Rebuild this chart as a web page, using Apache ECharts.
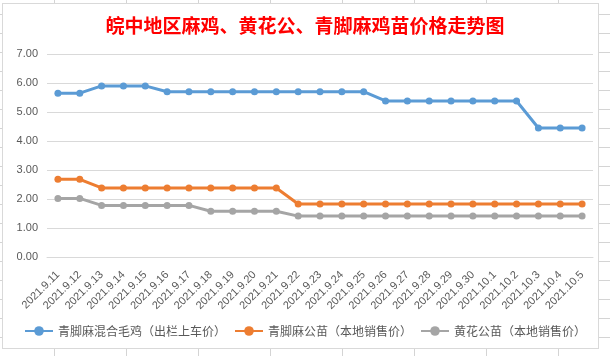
<!DOCTYPE html>
<html>
<head>
<meta charset="utf-8">
<script src="https://cdn.jsdelivr.net/npm/echarts@6/dist/echarts.min.js"></script>
<style>
  html, body { margin: 0; padding: 0; width: 610px; height: 356px; overflow: hidden; }
  body {
    background-color: #ffffff;
    background-image:
      repeating-linear-gradient(to right, transparent 0px, transparent 54px, #d4d4d4 54px, #d4d4d4 55px, transparent 55px, transparent 72px),
      repeating-linear-gradient(to bottom, transparent 0px, transparent 14px, #d4d4d4 14px, #d4d4d4 15px, transparent 15px, transparent 19px);
    background-size: 72px 100%, 100% 19px;
    position: relative;
  }
  #box { position: absolute; left: 2px; top: 3px; width: 595px; height: 344px; background: #fff; border: 1px solid #d9d9d9; }
  #chart { position: absolute; left: 0; top: 0; width: 610px; height: 356px; }
</style>
</head>
<body>
<div id="box"></div>
<div id="chart"></div>
<script>
const categories = ['2021.9.11','2021.9.12','2021.9.13','2021.9.14','2021.9.15','2021.9.16','2021.9.17','2021.9.18','2021.9.19','2021.9.20','2021.9.21','2021.9.22','2021.9.23','2021.9.24','2021.9.25','2021.9.26','2021.9.27','2021.9.28','2021.9.29','2021.9.30','2021.10.1','2021.10.2','2021.10.3','2021.10.4','2021.10.5'];
const seriesNames = ['青脚麻混合毛鸡（出栏上车价）','青脚麻公苗（本地销售价）','黄花公苗（本地销售价）'];
const mixedChicken = [5.65,5.65,5.9,5.9,5.9,5.7,5.7,5.7,5.7,5.7,5.7,5.7,5.7,5.7,5.7,5.38,5.38,5.38,5.38,5.38,5.38,5.38,4.45,4.45,4.45];
const qingjiaoChick = [2.68,2.68,2.38,2.38,2.38,2.38,2.38,2.38,2.38,2.38,2.38,1.83,1.83,1.83,1.83,1.83,1.83,1.83,1.83,1.83,1.83,1.83,1.83,1.83,1.83];
const huanghuaChick = [2.02,2.02,1.78,1.78,1.78,1.78,1.78,1.58,1.58,1.58,1.58,1.41,1.41,1.41,1.41,1.41,1.41,1.41,1.41,1.41,1.41,1.41,1.41,1.41,1.41];
const titleText = '皖中地区麻鸡、黄花公、青脚麻鸡苗价格走势图';
const colors = ['#5b9bd5','#ed7d31','#a5a5a5'];

const chart = echarts.init(document.getElementById('chart'));
const dataSets = [mixedChicken, qingjiaoChick, huanghuaChick];
chart.setOption({
  backgroundColor: 'transparent',
  animation: false,
  color: colors,
  title: {
    text: titleText,
    left: 'center',
    top: 11,
    textStyle: { color: '#ff0000', fontSize: 19, fontWeight: 'bold', fontFamily: 'Noto Sans CJK SC' }
  },
  grid: { left: 47, right: 17, top: 54, bottom: 99, containLabel: false },
  legend: {
    bottom: 14,
    left: 'center',
    itemWidth: 28,
    itemHeight: 12,
    itemGap: 8,
    textStyle: { color: '#595959', fontSize: 12, fontFamily: 'Noto Sans CJK SC' },
    data: seriesNames
  },
  xAxis: {
    type: 'category',
    data: categories,
    boundaryGap: true,
    axisLine: { lineStyle: { color: '#d9d9d9' } },
    axisTick: { show: false },
    axisLabel: { interval: 0, rotate: 45, color: '#595959', fontSize: 11, margin: 16, fontFamily: 'Liberation Sans' }
  },
  yAxis: {
    type: 'value',
    min: 0, max: 7, interval: 1,
    axisLine: { show: false },
    axisTick: { show: false },
    splitLine: { lineStyle: { color: '#d9d9d9' } },
    axisLabel: { color: '#595959', fontSize: 11, margin: 9, fontFamily: 'Liberation Sans', formatter: v => v.toFixed(2) }
  },
  series: seriesNames.map((n, i) => ({
    name: n,
    type: 'line',
    data: dataSets[i],
    symbol: 'circle',
    symbolSize: 7,
    lineStyle: { width: 3, color: colors[i] },
    itemStyle: { color: colors[i] }
  }))
});
</script>
</body>
</html>
